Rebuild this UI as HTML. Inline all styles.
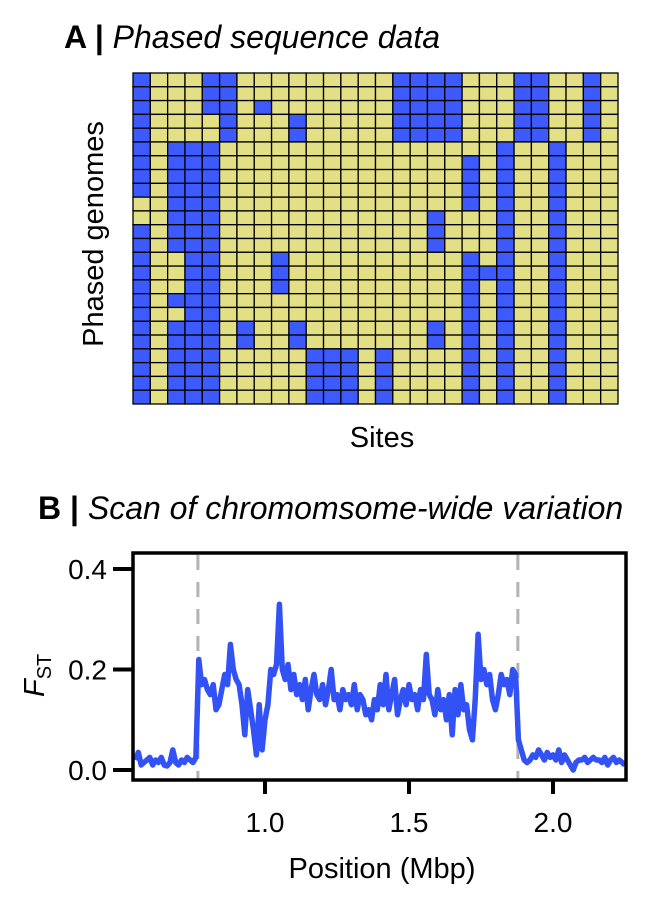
<!DOCTYPE html>
<html><head><meta charset="utf-8">
<style>
body{margin:0;background:#fff;}
svg{display:block;font-family:"Liberation Sans",Arial,sans-serif;}
.t26{font-size:32px;}
.t23{font-size:29px;}
.t22{font-size:28px;}
</style></head>
<body>
<svg id="fig" width="662" height="908" viewBox="0 0 662 908">
  <text x="64" y="48" class="t26"><tspan font-weight="bold">A |</tspan> <tspan font-style="italic">Phased sequence data</tspan></text>
  <g id="grid"></g>
  <text x="0" y="0" class="t23" text-anchor="middle" transform="translate(103,234) rotate(-90)">Phased genomes</text>
  <text x="382" y="447" class="t23" text-anchor="middle">Sites</text>

  <text x="38" y="519" class="t26"><tspan font-weight="bold">B |</tspan> <tspan font-style="italic">Scan of chromomsome-wide variation</tspan></text>
  <g id="chart"></g>
  <text x="0" y="0" class="t23" font-style="italic" transform="translate(44,697) rotate(-90)">F<tspan style="font-size:20px" font-style="normal" dy="7">ST</tspan></text>
  <text x="382" y="878" class="t23" text-anchor="middle">Position (Mbp)</text>
</svg>
<script>
// Panel A data: blue-allele columns per phased genome (28 sites)
const blueCols = [
[0,4,5,15,16,17,18,22,23,26],
[0,4,5,15,16,17,18,22,23,26],
[0,4,5,7,15,16,17,18,22,23,26],
[0,5,9,15,16,17,18,22,23,26],
[0,5,9,15,16,17,18,22,23,26],
[0,2,3,4,21,24],
[0,2,3,4,19,21,24],
[0,2,3,4,19,21,24],
[0,2,3,4,19,21,24],
[2,3,4,19,21,24],
[2,3,4,17,21,24],
[0,2,3,4,17,21,24],
[0,2,3,4,17,21,24],
[0,3,4,8,19,21,24],
[0,3,4,8,19,20,21,24],
[0,3,4,8,19,21,24],
[0,2,3,4,19,21,24],
[0,3,4,19,21,24],
[0,2,3,4,6,9,17,19,21,24],
[0,2,3,4,6,9,17,19,21,24],
[0,2,3,4,10,11,12,14,19,21,24],
[0,2,3,4,10,11,12,14,19,21,24],
[0,2,3,4,10,11,12,14,19,21,24],
[0,2,3,4,10,11,12,14,19,21,24]
];
const nCols = 28;
const NS = "http://www.w3.org/2000/svg";
(function(){
  const g = document.getElementById('grid');
  const x0=133, y0=73, x1=618, y1=404;
  const cw=(x1-x0)/nCols, ch=(y1-y0)/blueCols.length;
  blueCols.forEach((row,r)=>{
    for(let c=0;c<nCols;c++){
      const rect=document.createElementNS(NS,'rect');
      rect.setAttribute('x',x0+c*cw);
      rect.setAttribute('y',y0+r*ch);
      rect.setAttribute('width',cw);
      rect.setAttribute('height',ch);
      rect.setAttribute('fill',row.includes(c)?'#3d5afe':'#e3df85');
      rect.setAttribute('stroke','#000');
      rect.setAttribute('stroke-width','1.3');
      
      
      g.appendChild(rect);
    }
  });
})();
</script>
<script>
// Panel B data
const fstValues = [
0.02,0.035,0.01,0.015,0.02,
0.025,0.01,0.02,0.015,0.025,0.01,0.008,0.015,0.04,0.015,
0.01,0.02,0.015,0.025,0.02,0.015,0.025,
0.22,0.17,0.18,
0.16,0.15,0.17,0.12,0.13,0.16,0.19,0.17,0.25,0.2,
0.18,0.17,0.13,0.07,0.16,0.12,0.08,0.03,0.13,0.04,
0.1,0.13,0.2,0.19,0.21,0.33,0.2,0.18,0.21,0.16,
0.19,0.15,0.17,0.14,0.18,0.12,0.16,0.19,0.15,0.14,
0.17,0.13,0.16,0.2,0.14,0.15,0.12,0.16,0.14,0.15,
0.13,0.17,0.12,0.15,0.14,0.11,0.12,0.1,0.14,0.12,
0.17,0.13,0.19,0.12,0.15,0.18,0.11,0.14,0.16,0.13,
0.17,0.14,0.15,0.12,0.16,0.14,0.23,0.15,0.14,0.11,
0.16,0.12,0.14,0.1,0.15,0.07,0.16,0.11,0.17,0.12,
0.13,0.08,0.06,0.14,0.27,0.18,0.2,0.17,0.19,0.14,
0.12,0.15,0.19,0.17,0.18,0.15,0.2,0.19,0.06,0.04,
0.02,0.015,0.02,0.03,0.025,0.04,0.03,0.02,0.035,0.025,
0.03,0.02,0.04,0.015,0.03,0.02,0.01,0.0,0.015,0.02,
0.02,0.025,0.015,0.02,0.025,0.02,0.02,0.015,0.025,0.01,
0.02,0.025,0.015,0.02,0.015,0.01
];
const posStart = 0.55, posStep = 0.01;
const yTicks = [0.0,0.2,0.4];
const yTickLabels = ["0.0","0.2","0.4"];
const xTicks = [1.0,1.5,2.0];
const xTickLabels = ["1.0","1.5","2.0"];
const boundaries = [0.767,1.878];
(function(){
  const g=document.getElementById('chart');
  const L=133,R=626,T=553,B=780;
  const xs=v=>265+(v-1.0)*288;
  const ys=v=>770-v*502.5;
  function el(tag,attrs,name){const e=document.createElementNS(NS,tag);for(const k in attrs)e.setAttribute(k,attrs[k]);
    
    
    g.appendChild(e);return e;}
  boundaries.forEach(b=>{
    el('line',{x1:xs(b),x2:xs(b),y1:T+2,y2:B,stroke:'#b3b3b3','stroke-width':3,'stroke-dasharray':'15,12'},'boundary-line');
  });
  let d='';
  fstValues.forEach((v,i)=>{const p=posStart+i*posStep;d+=(i?'L':'M')+xs(p).toFixed(1)+','+ys(v).toFixed(1);});
  el('path',{d:d,fill:'none',stroke:'#3352f5','stroke-width':5.5,'stroke-linejoin':'round'},'fst-line');
  el('rect',{x:L,y:T,width:R-L,height:B-T,fill:'none',stroke:'#000','stroke-width':3.5},'plot-frame');
  yTicks.forEach((v,i)=>{
    el('line',{x1:113,x2:L,y1:ys(v),y2:ys(v),stroke:'#000','stroke-width':4},'y-tick');
    const t=el('text',{x:107,y:ys(v)+10,'class':'t22','text-anchor':'end'},'y-tick-label');t.textContent=yTickLabels[i];
  });
  xTicks.forEach((v,i)=>{
    el('line',{x1:xs(v),x2:xs(v),y1:B,y2:B+14,stroke:'#000','stroke-width':4},'x-tick');
    const t=el('text',{x:xs(v),y:832,'class':'t22','text-anchor':'middle'},'x-tick-label');t.textContent=xTickLabels[i];
  });
})();
</script>
</body></html>
